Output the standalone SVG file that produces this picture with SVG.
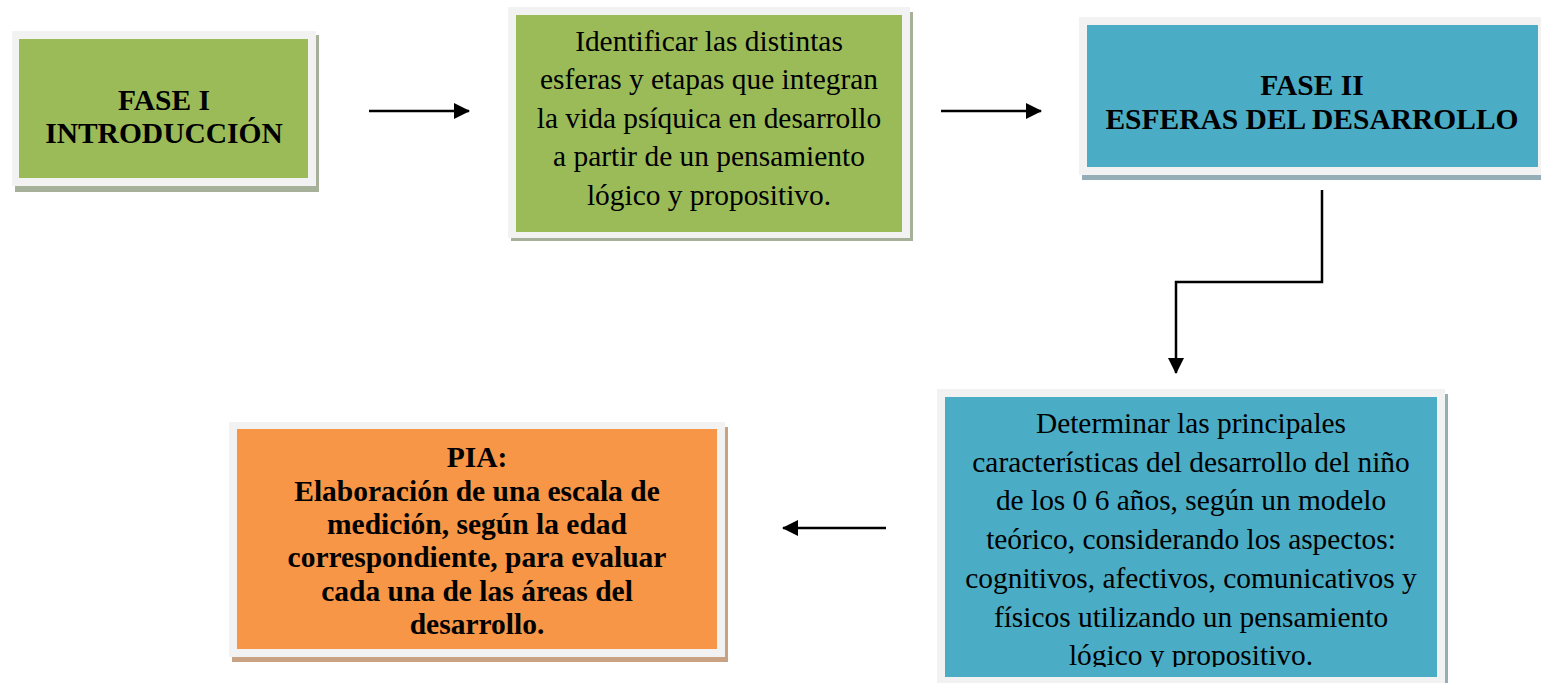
<svg xmlns="http://www.w3.org/2000/svg" width="1541" height="683" viewBox="0 0 1541 683">
<style>
.frame{fill:#f2f2f2}
.g{fill:#9bbb59}
.b{fill:#4bacc6}
.o{fill:#f79646}
.sg{fill:#a7b098}
.sb{fill:#93aeb6}
.so{fill:#c9a283}
.t{font-family:"Liberation Serif","Times New Roman",serif;font-size:29.4px;fill:#000;text-anchor:middle}
.tb{font-family:"Liberation Serif","Times New Roman",serif;font-size:29.5px;font-weight:bold;fill:#000;text-anchor:middle}
.c{stroke:#000;stroke-width:2.5;fill:none}
</style>
<defs>
<marker id="ah" markerWidth="16" markerHeight="16" refX="15" refY="8" orient="auto" markerUnits="userSpaceOnUse">
<path d="M0,0 L16,8 L0,16 Z" fill="#000"/>
</marker>
<clipPath id="clip4"><rect x="940" y="390" width="500" height="277"/></clipPath>
</defs>
<rect width="1541" height="683" fill="#fff"/>

<g id="node-fase1">
<rect class="sg" x="15" y="35" width="304" height="157"/>
<rect class="frame" x="12" y="31" width="304" height="155"/>
<rect class="g" x="19" y="39" width="289" height="139"/>
<text class="tb" x="164" y="110">FASE I</text>
<text class="tb" x="164" y="143">INTRODUCCIÓN</text>
</g>

<g id="node-identificar">
<rect class="sg" x="511" y="12" width="402" height="229"/>
<rect class="frame" x="508" y="7" width="402" height="231"/>
<rect class="g" x="516" y="15" width="386" height="217"/>
<text class="t" x="709" y="51">Identificar las distintas</text>
<text class="t" x="709" y="89">esferas y etapas que integran</text>
<text class="t" x="709" y="128">la vida psíquica en desarrollo</text>
<text class="t" x="709" y="166">a partir de un pensamiento</text>
<text class="t" x="709" y="205">lógico y propositivo.</text>
</g>

<g id="node-fase2">
<rect class="sb" x="1082" y="22" width="470" height="158"/>
<rect class="frame" x="1079" y="17" width="470" height="158"/>
<rect class="b" x="1087" y="25" width="451" height="142"/>
<text class="tb" x="1312" y="95">FASE II</text>
<text class="tb" x="1312" y="129">ESFERAS DEL DESARROLLO</text>
</g>

<g id="node-determinar">
<rect class="sb" x="940" y="394" width="508" height="300"/>
<rect class="frame" x="937" y="389" width="508" height="300"/>
<rect class="b" x="945" y="397" width="492" height="280"/>
<g clip-path="url(#clip4)">
<text class="t" x="1191" y="433">Determinar las principales</text>
<text class="t" x="1191" y="472">características del desarrollo del niño</text>
<text class="t" x="1191" y="510">de los 0 6 años, según un modelo</text>
<text class="t" x="1191" y="549">teórico, considerando los aspectos:</text>
<text class="t" x="1191" y="588">cognitivos, afectivos, comunicativos y</text>
<text class="t" x="1191" y="627">físicos utilizando un pensamiento</text>
<text class="t" x="1191" y="665">lógico y propositivo.</text>
</g>
</g>

<g id="node-pia">
<rect class="so" x="232" y="427" width="496" height="235"/>
<rect class="frame" x="229" y="422" width="496" height="235"/>
<rect class="o" x="237" y="429" width="480" height="220"/>
<text class="tb" x="477" y="467">PIA:</text>
<text class="tb" x="477" y="501">Elaboración de una escala de</text>
<text class="tb" x="477" y="534">medición, según la edad</text>
<text class="tb" x="477" y="567">correspondiente, para evaluar</text>
<text class="tb" x="477" y="601">cada una de las áreas del</text>
<text class="tb" x="477" y="634">desarrollo.</text>
</g>

<g id="connectors">
<line class="c" x1="369" y1="111" x2="469" y2="111" marker-end="url(#ah)"/>
<line class="c" x1="941" y1="111" x2="1041" y2="111" marker-end="url(#ah)"/>
<polyline class="c" points="1322,190 1322,282 1176,282 1176,373" marker-end="url(#ah)"/>
<line class="c" x1="886" y1="528" x2="783" y2="528" marker-end="url(#ah)"/>
</g>
</svg>
